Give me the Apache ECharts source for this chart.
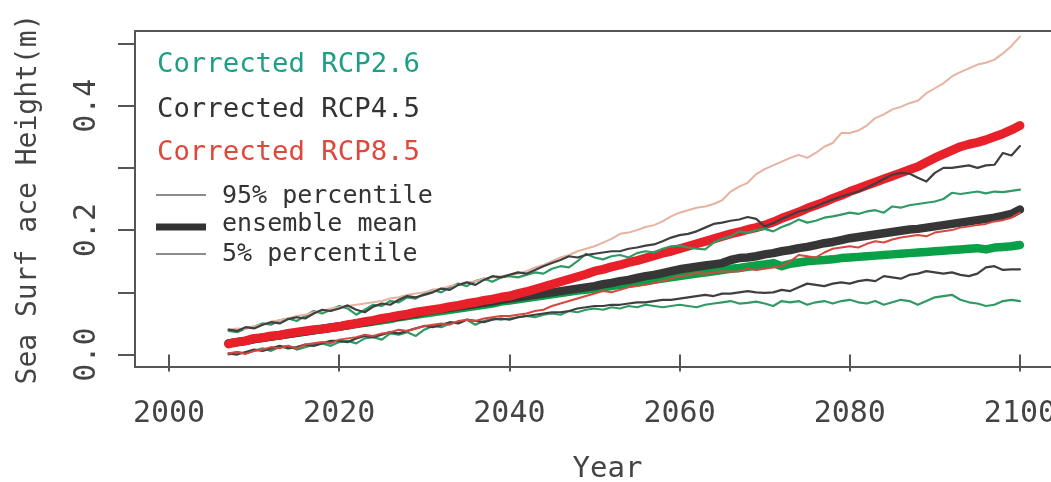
<!DOCTYPE html>
<html>
<head>
<meta charset="utf-8">
<script src="https://cdn.jsdelivr.net/npm/echarts@6/dist/echarts.min.js"></script>
<style>
html,body{margin:0;padding:0;background:#fff;}
#chart{width:1051px;height:482px;}
</style>
</head>
<body>
<div id="chart"></div>
<script>
// Years 2007..2100
const firstYear = 2007, lastYear = 2100;
const xTicks = [2000, 2020, 2040, 2060, 2080, 2100];
const yTicks = [0, 0.1, 0.2, 0.3, 0.4, 0.5];
const yLabels = [0, 0.2, 0.4];

// RCP2.6
const rcp26Mean = [
 .018,.020,.022,
 .025,.027,.029,.031,.033,.035,.037,.039,.041,.043,
 .045,.047,.049,.051,.053,.055,.057,.060,.062,.064,
 .066,.068,.070,.072,.074,.076,.078,.080,.082,.085,
 .087,.089,.091,.093,.095,.097,.099,.101,.103,.104,
 .106,.108,.110,.112,.114,.116,.118,.120,.122,.124,
 .126,.128,.130,.132,.134,.136,.138,.139,.141,.143,
 .145,.147,.142,.146,.148,.150,.151,.152,.153,.155,
 .156,.157,.158,.159,.160,.161,.162,.163,.164,.165,
 .166,.167,.168,.169,.170,.171,.169,.172,.173,.174,
 .176];
const rcp26P95 = [
 .038,.036,.042,
 .045,.050,.048,.055,.058,.054,.062,.070,.066,.072,
 .078,.074,.064,.072,.080,.078,.086,.084,.092,.090,
 .098,.104,.100,.108,.114,.110,.118,.122,.117,.124,
 .126,.124,.128,.132,.130,.138,.142,.140,.150,.162,
 .156,.153,.158,.160,.156,.163,.166,.164,.170,.174,
 .175,.172,.170,.169,.180,.186,.190,.198,.196,.200,
 .202,.198,.205,.210,.217,.212,.215,.220,.222,.225,
 .228,.226,.230,.232,.228,.238,.236,.240,.242,.244,
 .246,.250,.260,.258,.260,.262,.259,.262,.261,.263,
 .265];
const rcp26P05 = [
 .000,.004,.002,
 .006,.010,.006,.012,.014,.008,.012,.016,.018,.014,
 .020,.022,.018,.026,.028,.024,.034,.032,.036,.030,
 .040,.046,.044,.050,.052,.056,.048,.054,.058,.056,
 .058,.060,.062,.060,.064,.066,.064,.070,.068,.072,
 .074,.072,.076,.074,.078,.076,.080,.078,.076,.078,
 .080,.078,.076,.080,.082,.084,.086,.082,.083,.085,
 .082,.078,.086,.084,.086,.080,.084,.086,.082,.086,
 .088,.084,.082,.086,.080,.084,.088,.086,.080,.086,
 .092,.094,.096,.088,.084,.082,.078,.080,.086,.088,
 .086];

// RCP4.5
const rcp45Mean = [
 .018,.020,.022,
 .025,.027,.029,.031,.033,.035,.037,.039,.041,.043,
 .045,.047,.050,.052,.054,.057,.059,.061,.064,.066,
 .069,.071,.073,.075,.077,.079,.081,.083,.085,.088,
 .090,.092,.094,.096,.098,.100,.102,.104,.106,.108,
 .110,.113,.115,.118,.120,.123,.126,.128,.131,.134,
 .137,.139,.141,.143,.145,.147,.152,.155,.156,.158,
 .161,.163,.166,.168,.171,.173,.176,.179,.181,.184,
 .187,.189,.191,.193,.195,.197,.199,.201,.202,.204,
 .206,.208,.210,.212,.214,.216,.218,.220,.223,.226,
 .233];
const rcp45P95 = [
 .040,.038,.044,
 .042,.048,.052,.050,.057,.060,.058,.066,.072,.070,
 .074,.079,.072,.068,.077,.082,.080,.088,.094,.092,
 .096,.100,.106,.104,.112,.116,.112,.120,.126,.124,
 .128,.132,.130,.136,.142,.147,.152,.158,.156,.160,
 .162,.164,.166,.166,.170,.172,.175,.177,.182,.188,
 .192,.194,.198,.204,.210,.212,.215,.217,.221,.218,
 .206,.211,.218,.224,.230,.233,.238,.244,.249,.254,
 .258,.262,.268,.275,.282,.289,.292,.291,.284,.278,
 .292,.300,.300,.302,.304,.300,.304,.305,.324,.320,
 .335];
const rcp45P05 = [
 .002,.000,.004,
 .008,.006,.010,.014,.010,.012,.016,.014,.018,.022,
 .022,.020,.026,.030,.028,.032,.036,.034,.038,.042,
 .046,.044,.048,.052,.050,.056,.054,.052,.056,.058,
 .056,.060,.062,.064,.066,.068,.068,.070,.074,.076,
 .078,.078,.080,.080,.082,.084,.084,.086,.088,.088,
 .090,.092,.094,.096,.094,.098,.098,.100,.102,.100,
 .099,.100,.104,.102,.108,.114,.112,.110,.114,.116,
 .114,.118,.120,.118,.126,.124,.122,.128,.130,.134,
 .132,.130,.132,.128,.126,.130,.140,.142,.136,.137,
 .137];

// RCP8.5
const rcp85Mean = [
 .017,.020,.022,
 .026,.027,.030,.031,.034,.036,.038,.040,.041,.043,
 .045,.048,.050,.053,.055,.058,.060,.063,.065,.068,
 .070,.072,.074,.077,.079,.082,.084,.087,.089,.092,
 .094,.098,.101,.105,.109,.113,.117,.121,.125,.129,
 .134,.137,.141,.144,.148,.151,.155,.159,.163,.166,
 .170,.174,.178,.182,.186,.190,.194,.197,.201,.204,
 .208,.213,.219,.224,.229,.235,.240,.245,.251,.256,
 .262,.267,.272,.277,.282,.287,.292,.297,.302,.309,
 .316,.322,.328,.334,.338,.341,.345,.350,.355,.361,
 .368];
const rcp85P95 = [
 .040,.042,.041,
 .046,.048,.053,.055,.058,.062,.064,.068,.070,.074,
 .076,.078,.080,.082,.084,.086,.090,.092,.096,.098,
 .100,.104,.106,.110,.112,.116,.118,.122,.124,.126,
 .128,.130,.134,.140,.144,.150,.156,.160,.166,.170,
 .174,.180,.186,.194,.196,.200,.205,.208,.214,.222,
 .228,.232,.236,.238,.242,.248,.262,.270,.276,.290,
 .298,.304,.310,.316,.321,.316,.324,.334,.340,.356,
 .356,.360,.368,.380,.386,.394,.398,.404,.408,.420,
 .428,.436,.447,.454,.460,.466,.469,.474,.484,.496,
 .511];
const rcp85P05 = [
 .002,.004,.001,
 .006,.008,.012,.010,.014,.010,.016,.018,.020,.018,
 .024,.026,.028,.032,.030,.034,.036,.040,.038,.042,
 .046,.048,.050,.048,.054,.056,.054,.058,.060,.062,
 .062,.064,.066,.070,.072,.078,.082,.086,.090,.094,
 .098,.102,.100,.104,.108,.110,.112,.115,.118,.122,
 .126,.128,.131,.130,.132,.134,.133,.134,.138,.136,
 .138,.140,.142,.150,.160,.158,.156,.164,.170,.172,
 .174,.172,.178,.182,.180,.185,.188,.190,.192,.190,
 .196,.198,.200,.204,.206,.208,.210,.214,.216,.220,
 .228];

const FONT = "'DejaVu Sans Mono', 'Liberation Mono', monospace";

function pairs(arr) {
  return arr.map((v, i) => [firstYear + i, v]);
}
function line(name, arr, color, width, z) {
  return {
    name, type: 'line', data: pairs(arr), showSymbol: false, symbol: 'none',
    lineStyle: { color, width, cap: 'round', join: 'round' },
    itemStyle: { color }, z, clip: true, silent: true, animation: false
  };
}

const cGreenThick = '#0aa048', cGreenThin = '#2f9a66';
const cBlackThick = '#363636', cBlackThin = '#3f3f3f';
const cRedThick = '#e8202a', cRedThin = '#d6483f', cSalmon = '#e6b3a0';

const chart = echarts.init(document.getElementById('chart'), null, { renderer: 'canvas' });
chart.setOption({
  animation: false,
  backgroundColor: '#fff',
  grid: { left: 135, top: 31, right: -3, bottom: 115, show: true, borderColor: '#555', borderWidth: 2,
    backgroundColor: 'transparent', containLabel: false, outerBoundsMode: 'none' },
  xAxis: {
    type: 'value', min: 1996, max: 2104,
    name: 'Year', nameLocation: 'middle', nameGap: 88,
    nameTextStyle: { fontFamily: FONT, fontSize: 29, color: '#444', padding: [0, 0, 0, 26] },
    axisLine: { show: false },
    axisTick: { show: true, customValues: xTicks, length: 17, lineStyle: { color: '#555', width: 2 } },
    axisLabel: { customValues: xTicks, fontFamily: FONT, fontSize: 30, color: '#444', margin: 32,
      formatter: v => String(v) },
    splitLine: { show: false }
  },
  yAxis: {
    type: 'value', min: -0.02, max: 0.52,
    name: 'Sea Surf ace Height(m)', nameLocation: 'middle', nameGap: 92, nameRotate: 90,
    nameTextStyle: { fontFamily: FONT, fontSize: 28, color: '#444' },
    axisLine: { show: false },
    axisTick: { show: true, customValues: yTicks, length: 17, lineStyle: { color: '#555', width: 2 } },
    axisLabel: { customValues: yLabels, rotate: 90, fontFamily: FONT, fontSize: 30, color: '#444', margin: 33,
      formatter: v => v.toFixed(1) },
    splitLine: { show: false }
  },
  series: [
    line('RCP2.6 mean', rcp26Mean, cGreenThick, 8.5, 2),
    line('RCP4.5 mean', rcp45Mean, cBlackThick, 8.5, 3),
    line('RCP8.5 mean', rcp85Mean, cRedThick, 9, 4),
    line('RCP2.6 95%', rcp26P95, cGreenThin, 2.2, 5),
    line('RCP2.6 5%', rcp26P05, cGreenThin, 2.2, 5),
    line('RCP4.5 95%', rcp45P95, cBlackThin, 2.2, 6),
    line('RCP4.5 5%', rcp45P05, cBlackThin, 2.2, 6),
    line('RCP8.5 95%', rcp85P95, cSalmon, 2, 5),
    line('RCP8.5 5%', rcp85P05, cRedThin, 2, 6)
  ],
  graphic: [
    { type: 'text', left: 157, top: 51, style: { text: 'Corrected RCP2.6', fill: '#1f9e87', font: "27.3px " + FONT } },
    { type: 'text', left: 157, top: 96, style: { text: 'Corrected RCP4.5', fill: '#333', font: "27.3px " + FONT } },
    { type: 'text', left: 157, top: 139, style: { text: 'Corrected RCP8.5', fill: '#e0473b', font: "27.3px " + FONT } },
    { type: 'line', shape: { x1: 156, y1: 195, x2: 206, y2: 195 }, style: { stroke: '#666', lineWidth: 1.3 } },
    { type: 'line', shape: { x1: 156, y1: 227, x2: 206, y2: 227 }, style: { stroke: '#333', lineWidth: 7 } },
    { type: 'line', shape: { x1: 156, y1: 254, x2: 206, y2: 254 }, style: { stroke: '#666', lineWidth: 1.3 } },
    { type: 'text', left: 222, top: 184, style: { text: '95% percentile', fill: '#333', font: "25px " + FONT } },
    { type: 'text', left: 222, top: 212, style: { text: 'ensemble mean', fill: '#333', font: "25px " + FONT } },
    { type: 'text', left: 222, top: 242, style: { text: '5% percentile', fill: '#333', font: "25px " + FONT } }
  ]
});
</script>
</body>
</html>
